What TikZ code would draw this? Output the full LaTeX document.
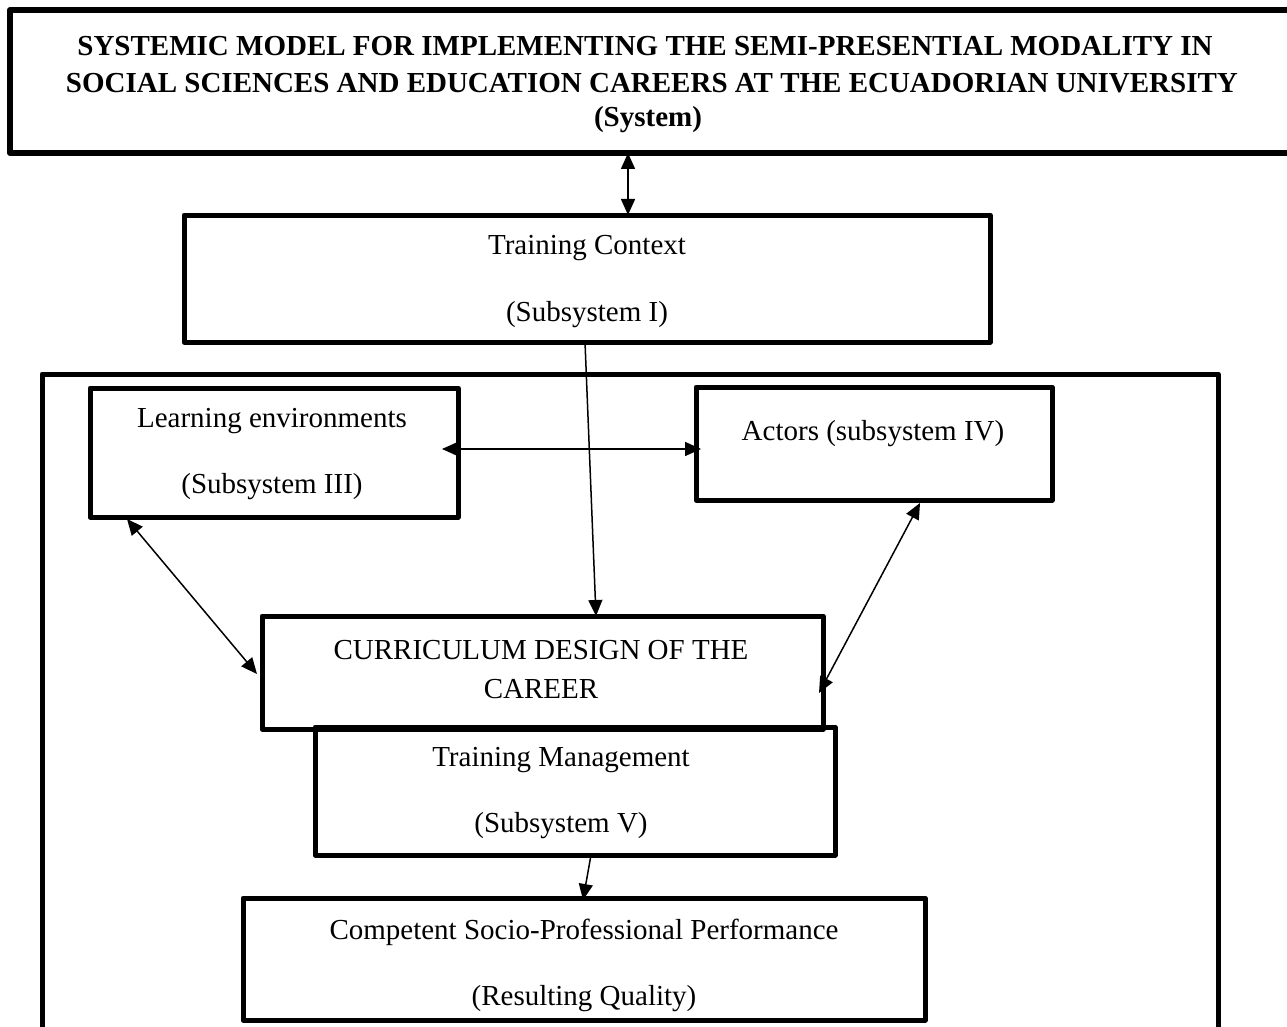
\documentclass[tikz,border=0pt]{standalone}
\usepackage{fontspec}
\setmainfont{Liberation Serif}
\usetikzlibrary{arrows.meta,calc}
\begin{document}
\begin{tikzpicture}[x=1pt,y=-1pt,
  box/.style={draw,line width=5pt,inner sep=0pt,outer sep=0pt,anchor=north west,line join=round},
  txt/.style={inner sep=0pt,font=\fontsize{29}{35}\selectfont},
  ttl/.style={inner sep=0pt,font=\fontsize{29}{35}\selectfont\bfseries},
  link/.style={line width=1.5pt,-{Triangle[length=16pt,width=14pt]}},
  dlink/.style={line width=1.5pt,{Triangle[length=16pt,width=14pt]}-{Triangle[length=16pt,width=14pt]}}]
\clip (0,0) rectangle (1287,1027);
\fill[white] (0,0) rectangle (1287,1027);

% boxes
\node[box,line width=6pt,minimum width=1300pt,minimum height=143pt] (sys) at (10,10) {};
\node[box,minimum width=806pt,minimum height=127pt] (ctx) at (184,215) {};
\node[box,minimum width=1176pt,minimum height=720pt] (frame) at (42,374) {};
\node[box,minimum width=368pt,minimum height=129pt] (env) at (90,388) {};
\node[box,minimum width=356pt,minimum height=113pt] (act) at (696,387) {};
\node[box,minimum width=561pt,minimum height=113pt] (cur) at (262,616) {};
\node[box,minimum width=520pt,minimum height=128pt] (mgt) at (315,727) {};
\node[box,minimum width=682pt,minimum height=122pt] (cmp) at (243,898) {};

% texts
\node[ttl] (t1) at (645,46) {SYSTEMIC MODEL FOR IMPLEMENTING THE SEMI-PRESENTIAL MODALITY IN};
\node[ttl] (t2) at (652,83) {SOCIAL SCIENCES AND EDUCATION CAREERS AT THE ECUADORIAN UNIVERSITY};
\node[ttl] (t3) at (648,120) {(System)};
\node[txt] (c1) at (587,248) {Training Context};
\node[txt] (c2) at (587,315) {(Subsystem I)};
\node[txt] (e1) at (272,421) {Learning environments};
\node[txt] (e2) at (272,487) {(Subsystem III)};
\node[txt] (a1) at (873,434) {Actors (subsystem IV)};
\node[txt] (u1) at (541,650) {CURRICULUM DESIGN OF THE};
\node[txt] (u2) at (541,689) {CAREER};
\node[txt] (m1) at (561,760) {Training Management};
\node[txt] (m2) at (561,826) {(Subsystem V)};
\node[txt] (p1) at (584,932) {Competent Socio-Professional Performance};
\node[txt] (p2) at (584,999) {(Resulting Quality)};

% connectors
\draw[dlink] ($(sys.south west)+(618,0)$) -- ($(ctx.north west)+(444,0)$);
\draw[link] ($(ctx.south west)+(401,0)$) -- ($(cur.north west)+(334,0)$);
\draw[dlink] ($(env.north east)+(-16,61)$) -- ($(act.north west)+(5,62)$);
\draw[dlink] ($(env.south west)+(37,2)$) -- ($(cur.north west)+(-5,58)$);
\draw[dlink] ($(act.south west)+(224,3)$) -- ($(cur.north east)+(-4,77)$);
\draw[link] ($(mgt.south west)+(276,0)$) -- ($(cmp.north west)+(340,2)$);
\end{tikzpicture}
\end{document}
